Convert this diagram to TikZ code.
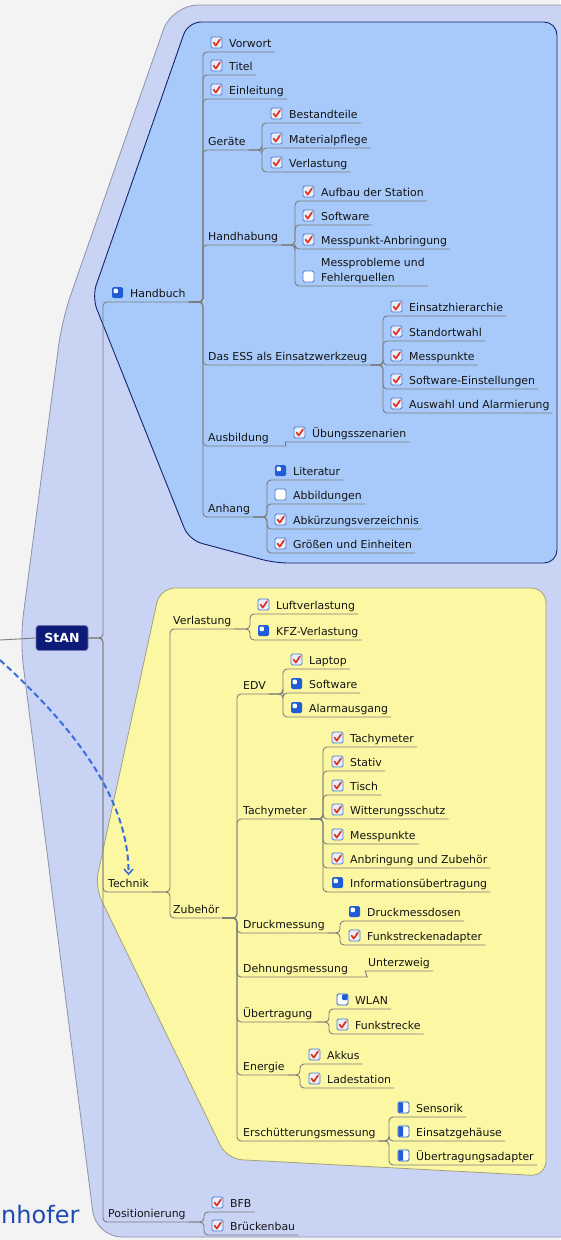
\documentclass[tikz,border=0pt]{standalone}
\usepackage{fontspec}
\setmainfont{DejaVu Sans}
\usetikzlibrary{arrows.meta}
\definecolor{bgc}{HTML}{F3F3F3}
\definecolor{outerc}{HTML}{C9D4F5}
\definecolor{outerb}{HTML}{8C93A8}
\definecolor{bluec}{HTML}{A8CAFA}
\definecolor{blueb}{HTML}{15246E}
\definecolor{yelc}{HTML}{FCF7A3}
\definecolor{yelb}{HTML}{A3A07A}
\definecolor{linec}{HTML}{7C7C7C}
\definecolor{navyc}{HTML}{0C1A78}
\definecolor{arrc}{HTML}{3A6EDC}
\definecolor{iconb}{HTML}{5078C8}
\definecolor{iconf}{HTML}{E8EEFA}
\definecolor{icond}{HTML}{1F5CD6}
\definecolor{chkred}{HTML}{E0341E}
\definecolor{fhc}{HTML}{1D49B3}
\definecolor{txtc}{HTML}{141414}
\tikzset{
  mm/.style={anchor=south west, inner xsep=3pt, inner ysep=4pt, text depth=0pt,
    font=\fontsize{10.9}{15}\selectfont, text=txtc},
  link/.style={draw=linec, line width=0.9pt, rounded corners=4pt},
  stanbox/.style={fill=navyc, draw=navyc!60, line width=0.8pt, rounded corners=3pt,
    minimum width=52pt, minimum height=25pt, inner sep=0pt, text=white,
    font=\bfseries\fontsize{12.5}{14}\selectfont},
  dasharrow/.style={draw=arrc, line width=2pt, dash pattern=on 6pt off 3.5pt,
    -{Straight Barb[length=5pt,width=9pt,line width=1.6pt]}},
  chk/.pic={\draw[draw=iconb, fill=iconf, line width=0.8pt, rounded corners=1.5pt] (0,0) rectangle (11,11);
    \draw[chkred, line width=1.7pt, line cap=round, line join=round] (2.6,5.6) -- (4.8,8.6) -- (9,2.4);},
  pqa/.pic={\fill[icond, rounded corners=1.5pt] (0,0) rectangle (11,11);
    \fill[white, rounded corners=1pt] (1.6,1.6) rectangle (5.8,6.2);},
  pha/.pic={\draw[draw=icond, fill=white, line width=0.8pt, rounded corners=1.5pt] (0,0) rectangle (11,11);
    \fill[icond, rounded corners=1pt] (0.4,0.4) rectangle (5.2,10.6);},
  pqu/.pic={\draw[draw=icond, fill=white, line width=0.8pt, rounded corners=1.5pt] (0,0) rectangle (11,11);
    \fill[icond, rounded corners=1pt] (5.2,0.4) rectangle (10.6,6);},
  pze/.pic={\draw[draw=iconb, fill=white, line width=0.8pt, rounded corners=1.5pt] (0,0) rectangle (11,11);},
  noicon/.pic={},
}
\newcommand\mmn[5]{\node[mm] (#1) at (#2-3,#3) {#5};
  \pic at ([xshift=-15pt,yshift=15pt]#1.south west) {#4};}
\begin{document}
\begin{tikzpicture}[x=1pt,y=-1pt]
\useasboundingbox (0,0) rectangle (560,1240);
\fill[bgc] (0,0) rectangle (560,1240);
% group regions
\draw[fill=outerc, draw=outerb, line width=0.8pt, rounded corners=26pt]
  (620,5) -- (172,5) -- (62,320) -- (20,640) -- (96,1237) -- (620,1237) -- cycle;
\draw[fill=bluec, draw=blueb, line width=0.9pt, rounded corners=13pt]
  (188,22) -- (557,22) -- (557,563) -- (275,563) -- (189,540) -- (92,297) -- cycle;
\draw[fill=yelc, draw=yelb, line width=0.8pt, rounded corners=15pt]
  (160,588) -- (546,588) -- (546,1176) -- (227,1159) -- (95,887) -- cycle;
% root
\node[stanbox] (stan) at (62,638) {StAN};
\coordinate (offL) at (0,640);
\coordinate (arrS) at (0,660);
\node[anchor=base west, inner sep=0pt, text=fhc, font=\fontsize{24}{30}\selectfont] (fh) at (1,1223) {nhofer};
% main branches
\mmn{hb}{130}{302}{pqa}{Handbuch}
\mmn{tech}{108}{892}{noicon}{Technik}
\mmn{pos}{108}{1222}{noicon}{Positionierung}
% Handbuch
\mmn{vorwort}{229}{52}{chk}{Vorwort}
\mmn{titel}{229}{75}{chk}{Titel}
\mmn{einl}{229}{99}{chk}{Einleitung}
\mmn{ger}{208}{150}{noicon}{Geräte}
\mmn{hand}{208}{245}{noicon}{Handhabung}
\mmn{ess}{208}{365}{noicon}{Das ESS als Einsatzwerkzeug}
\mmn{ausb}{208}{446}{noicon}{Ausbildung}
\mmn{anh}{208}{517}{noicon}{Anhang}
\mmn{best}{289}{123}{chk}{Bestandteile}
\mmn{mat}{289}{148}{chk}{Materialpflege}
\mmn{verl}{289}{172}{chk}{Verlastung}
\mmn{aufbau}{321}{201}{chk}{Aufbau der Station}
\mmn{softw}{321}{225}{chk}{Software}
\mmn{messp}{321}{249}{chk}{Messpunkt-Anbringung}
\node[mm, align=left] (messpr) at (318,286) {Messprobleme und\\Fehlerquellen};
\pic at ([xshift=-15pt,yshift=15pt]messpr.south west) {pze};
\mmn{einsh}{409}{316}{chk}{Einsatzhierarchie}
\mmn{stand}{409}{341}{chk}{Standortwahl}
\mmn{messk}{409}{365}{chk}{Messpunkte}
\mmn{swe}{409}{389}{chk}{Software-Einstellungen}
\mmn{ausw}{409}{413}{chk}{Auswahl und Alarmierung}
\mmn{uebung}{312}{442}{chk}{Übungsszenarien}
\mmn{lit}{293}{480}{pqa}{Literatur}
\mmn{abb}{293}{504}{pze}{Abbildungen}
\mmn{abk}{293}{529}{chk}{Abkürzungsverzeichnis}
\mmn{groe}{293}{553}{chk}{Größen und Einheiten}
% Technik
\mmn{verlT}{173}{629}{noicon}{Verlastung}
\mmn{zub}{173}{918}{noicon}{Zubehör}
\mmn{luft}{276}{614}{chk}{Luftverlastung}
\mmn{kfz}{276}{640}{pqa}{KFZ-Verlastung}
\mmn{edv}{243}{694}{noicon}{EDV}
\mmn{tach}{243}{819}{noicon}{Tachymeter}
\mmn{druck}{243}{933}{noicon}{Druckmessung}
\mmn{dehn}{243}{977}{noicon}{Dehnungsmessung}
\mmn{uebt}{243}{1022}{noicon}{Übertragung}
\mmn{energ}{243}{1075}{noicon}{Energie}
\mmn{ersch}{243}{1141}{noicon}{Erschütterungsmessung}
\mmn{laptop}{309}{669}{chk}{Laptop}
\mmn{swtwo}{309}{693}{pqa}{Software}
\mmn{alarm}{309}{717}{pqa}{Alarmausgang}
\mmn{tachy}{350}{747}{chk}{Tachymeter}
\mmn{stativ}{350}{771}{chk}{Stativ}
\mmn{tisch}{350}{795}{chk}{Tisch}
\mmn{witt}{350}{819}{chk}{Witterungsschutz}
\mmn{mptwo}{350}{844}{chk}{Messpunkte}
\mmn{anbr}{350}{868}{chk}{Anbringung und Zubehör}
\mmn{info}{350}{892}{pqa}{Informationsübertragung}
\mmn{dmd}{367}{921}{pqa}{Druckmessdosen}
\mmn{fsa}{367}{945}{chk}{Funkstreckenadapter}
\mmn{unterz}{368}{971}{noicon}{Unterzweig}
\mmn{wlan}{355}{1009}{pqu}{WLAN}
\mmn{funk}{355}{1034}{chk}{Funkstrecke}
\mmn{akkus}{327}{1064}{chk}{Akkus}
\mmn{lade}{327}{1088}{chk}{Ladestation}
\mmn{sens}{416}{1117}{pha}{Sensorik}
\mmn{eins}{416}{1141}{pha}{Einsatzgehäuse}
\mmn{uad}{416}{1165}{pha}{Übertragungsadapter}
% Positionierung
\mmn{bfb}{230}{1212}{chk}{BFB}
\mmn{brue}{230}{1235}{chk}{Brückenbau}
% vertical line positions
\coordinate (VT) at (103,0);
\coordinate (VH) at (203,0);
\coordinate (VG) at (262,0);
\coordinate (VHa) at (295,0);
\coordinate (VE) at (383,0);
\coordinate (VA) at (267,0);
\coordinate (VTe) at (170,0);
\coordinate (VV) at (250,0);
\coordinate (VZ) at (237,0);
\coordinate (VEd) at (283,0);
\coordinate (VTa) at (323,0);
\coordinate (VD) at (340,0);
\coordinate (VU) at (329,0);
\coordinate (VEn) at (300,0);
\coordinate (VEr) at (389,0);
\coordinate (VP) at (204,0);
% connectors
\draw[link] (stan.west) -- (offL);
\foreach \c in {hb,tech,pos} \draw[link] (stan.east) -- (stan.east -| VT) |- (\c.south east);
\foreach \c in {vorwort,titel,einl,ger,hand,ess,ausb,anh} \draw[link] (hb.south east) -- (hb.south east -| VH) |- (\c.south east);
\foreach \c in {best,mat,verl} \draw[link] (ger.south east) -- (ger.south east -| VG) |- (\c.south east);
\foreach \c in {aufbau,softw,messp,messpr} \draw[link] (hand.south east) -- (hand.south east -| VHa) |- (\c.south east);
\foreach \c in {einsh,stand,messk,swe,ausw} \draw[link] (ess.south east) -- (ess.south east -| VE) |- (\c.south east);
\draw[link] (ausb.south east) -- ++(10,0) to[out=0,in=180] ++(7,-4) -- (uebung.south east);
\foreach \c in {lit,abb,abk,groe} \draw[link] (anh.south east) -- (anh.south east -| VA) |- (\c.south east);
\foreach \c in {verlT,zub} \draw[link] (tech.south east) -- (tech.south east -| VTe) |- (\c.south east);
\foreach \c in {luft,kfz} \draw[link] (verlT.south east) -- (verlT.south east -| VV) |- (\c.south east);
\foreach \c in {edv,tach,druck,dehn,uebt,energ,ersch} \draw[link] (zub.south east) -- (zub.south east -| VZ) |- (\c.south east);
\foreach \c in {laptop,swtwo,alarm} \draw[link] (edv.south east) -- (edv.south east -| VEd) |- (\c.south east);
\foreach \c in {tachy,stativ,tisch,witt,mptwo,anbr,info} \draw[link] (tach.south east) -- (tach.south east -| VTa) |- (\c.south east);
\foreach \c in {dmd,fsa} \draw[link] (druck.south east) -- (druck.south east -| VD) |- (\c.south east);
\draw[link] (dehn.south east) -- ++(12,0) to[out=0,in=180] ++(6,-6) -- (unterz.south east);
\foreach \c in {wlan,funk} \draw[link] (uebt.south east) -- (uebt.south east -| VU) |- (\c.south east);
\foreach \c in {akkus,lade} \draw[link] (energ.south east) -- (energ.south east -| VEn) |- (\c.south east);
\foreach \c in {sens,eins,uad} \draw[link] (ersch.south east) -- (ersch.south east -| VEr) |- (\c.south east);
\foreach \c in {bfb,brue} \draw[link] (pos.south east) -- (pos.south east -| VP) |- (\c.south east);
% relationship arrow
\draw[dasharrow] (arrS) .. controls (60,715) and (129,790) .. (tech.north);
\end{tikzpicture}
\end{document}
